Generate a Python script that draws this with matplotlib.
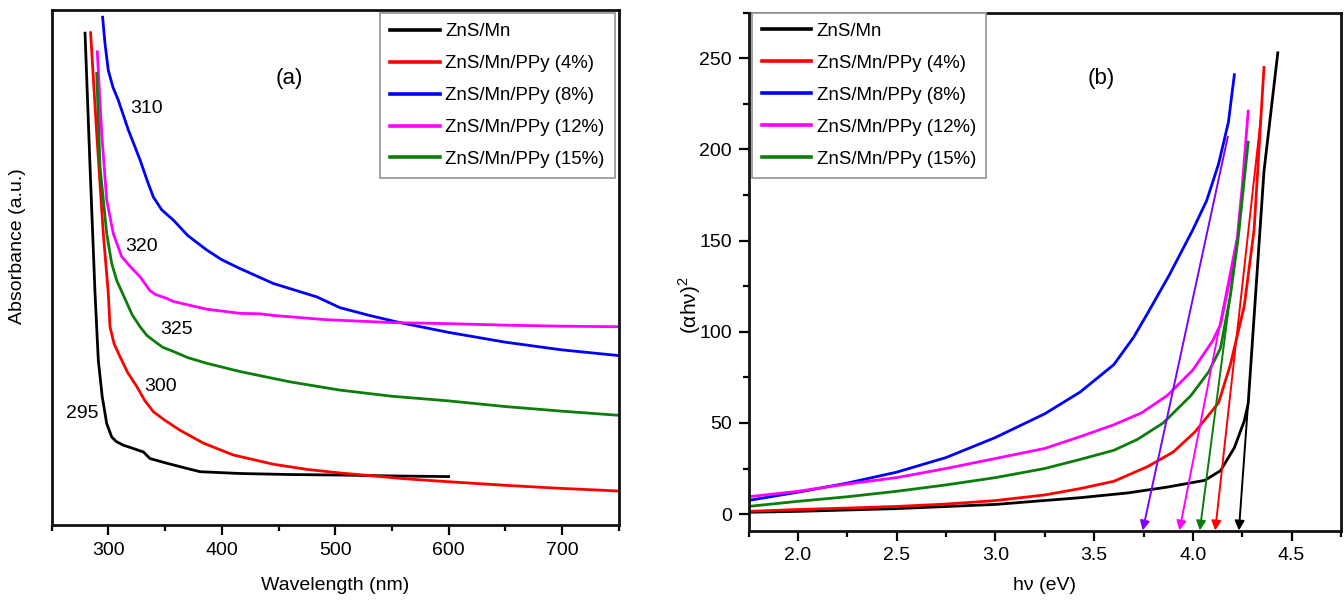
import matplotlib
matplotlib.use("Agg")
import matplotlib.pyplot as plt
from matplotlib.ticker import MultipleLocator, NullLocator

plt.rcParams['font.family'] = ['Liberation Sans', 'DejaVu Sans']

# ---------------- data : panel (a) ----------------
labels = ["ZnS/Mn", "ZnS/Mn/PPy (4%)", "ZnS/Mn/PPy (8%)",
          "ZnS/Mn/PPy (12%)", "ZnS/Mn/PPy (15%)"]
colors = ["#000000", "#ff0000", "#0000ff", "#ff00ff", "#0a7d0a"]

wl_mn = [279.4, 283.8, 288.2, 291.1, 294.5, 298.5, 302.9, 307.0, 313.1, 320.0,
         327.9, 330.8, 336.7, 351.4, 369.0, 380.8, 416.0, 460.0, 504.0, 530.0,
         560.0, 600.0]
ab_mn = [0.955, 0.696, 0.450, 0.320, 0.250, 0.197, 0.171, 0.162, 0.155, 0.150,
         0.144, 0.142, 0.129, 0.120, 0.110, 0.1035, 0.100, 0.098, 0.097, 0.096,
         0.095, 0.094]

wl_4 = [284.3, 289.7, 295.5, 299.9, 301.4, 305.0, 310.2, 317.0, 325.0, 332.0,
        339.6, 350.0, 363.1, 383.7, 410.1, 445.4, 474.9, 504.2, 530.0, 560.0,
        600.0, 650.0, 700.0, 750.0]
ab_4 = [0.956, 0.760, 0.566, 0.450, 0.385, 0.352, 0.327, 0.296, 0.269, 0.242,
        0.220, 0.203, 0.184, 0.159, 0.136, 0.118, 0.108, 0.101, 0.096, 0.090,
        0.084, 0.077, 0.071, 0.066]

wl_8 = [294.9, 297.0, 299.9, 304.0, 308.7, 317.6, 327.9, 334.0, 339.6, 347.0,
        357.3, 370.0, 386.7, 400.0, 416.0, 445.4, 483.7, 504.2, 530.0, 555.0,
        600.0, 650.0, 700.0, 750.0]
ab_8 = [0.986, 0.935, 0.883, 0.850, 0.825, 0.767, 0.709, 0.670, 0.637, 0.612,
        0.592, 0.562, 0.534, 0.515, 0.498, 0.469, 0.443, 0.422, 0.407, 0.394,
        0.374, 0.355, 0.340, 0.329]

wl_12 = [290.2, 294.1, 298.5, 304.3, 311.7, 320.0, 327.9, 336.7, 341.1, 351.4,
         357.3, 386.7, 416.0, 434.0, 445.0, 489.5, 550.0, 600.0, 650.0, 700.0, 750.0]
ab_12 = [0.919, 0.760, 0.631, 0.566, 0.521, 0.500, 0.482, 0.455, 0.448, 0.440,
         0.434, 0.419, 0.411, 0.410, 0.407, 0.399, 0.393, 0.391, 0.388, 0.386, 0.385]

wl_15 = [289.7, 292.6, 298.5, 302.9, 307.3, 316.1, 321.0, 327.9, 334.0, 341.1,
         348.0, 357.3, 370.0, 386.7, 416.0, 460.0, 504.0, 550.0, 600.0, 650.0,
         700.0, 750.0]
ab_15 = [0.877, 0.696, 0.566, 0.508, 0.475, 0.432, 0.408, 0.385, 0.368, 0.356,
         0.345, 0.337, 0.325, 0.314, 0.298, 0.278, 0.262, 0.250, 0.241, 0.230,
         0.221, 0.213]

edge_labels = ["295", "300", "310", "320", "325"]
edge_x = [277.3, 346.4, 333.2, 329.3, 360.2]
edge_y = [0.217, 0.268, 0.809, 0.540, 0.380]

# ---------------- data : panel (b) ----------------
E_mn = [1.75, 2.0, 2.5, 3.0, 3.43, 3.67, 3.87, 4.06, 4.14, 4.21, 4.26, 4.28, 4.36, 4.43]
T_mn = [1.0, 1.5, 3.0, 5.3, 9.0, 11.6, 14.8, 18.5, 23.8, 36.4, 51.0, 60.5, 188.0, 253.0]

E_4 = [1.75, 2.0, 2.25, 2.5, 2.75, 3.0, 3.25, 3.43, 3.6, 3.77, 3.9, 4.01, 4.13, 4.19,
       4.26, 4.31, 4.36]
T_4 = [1.5, 2.5, 3.3, 4.2, 5.5, 7.4, 10.5, 14.0, 18.0, 26.0, 34.0, 45.0, 61.0, 82.0,
       114.0, 156.0, 245.0]

E_8 = [1.75, 2.0, 2.25, 2.5, 2.75, 3.0, 3.25, 3.43, 3.6, 3.7, 3.77, 3.88, 4.0, 4.07,
       4.13, 4.18, 4.21]
T_8 = [7.5, 12.0, 17.0, 23.0, 31.0, 42.0, 55.0, 67.0, 82.0, 97.0, 110.0, 131.0, 156.0,
       172.0, 192.0, 215.0, 241.0]

E_12 = [1.75, 2.0, 2.25, 2.5, 2.75, 3.0, 3.25, 3.43, 3.6, 3.74, 3.87, 4.0, 4.1, 4.14,
        4.2, 4.22, 4.25, 4.28]
T_12 = [9.5, 12.5, 16.5, 20.0, 25.0, 30.5, 36.0, 42.5, 49.0, 55.5, 65.0, 79.0, 95.0,
        104.0, 135.0, 146.0, 180.0, 221.0]

E_15 = [1.75, 2.0, 2.25, 2.5, 2.75, 3.0, 3.25, 3.43, 3.6, 3.72, 3.85, 3.99, 4.08, 4.14,
        4.19, 4.23, 4.28]
T_15 = [4.2, 7.0, 9.5, 12.5, 16.0, 20.0, 25.0, 30.0, 35.0, 41.0, 50.0, 65.0, 78.0, 91.0,
        120.0, 152.0, 204.0]

arrow_colors = ["#000000", "#ff0000", "#8000ff", "#ff00ff", "#0a7d0a"]
arrow_from_E = [4.279, 4.346, 4.177, 4.220, 4.228]
arrow_from_T = [60.0, 219.0, 207.0, 150.0, 152.0]
arrow_to_E = [4.233, 4.113, 3.746, 3.932, 4.035]
arrow_to_T = [-9.0, -9.0, -9.0, -9.0, -9.0]

# ---------------- figure ----------------
fig = plt.figure(figsize=(13.44, 6.0), dpi=100)
W, H = 1344.0, 600.0
axa = fig.add_axes([51.7 / W, (H - 525) / H, 567 / W, 515 / H])
axb = fig.add_axes([748.5 / W, (H - 530.5) / H, 592.5 / W, 517.8 / H])

LW = 2.0
series_a = [(wl_mn, ab_mn), (wl_4, ab_4), (wl_8, ab_8), (wl_12, ab_12), (wl_15, ab_15)]
for (x, y), c, lab in zip(series_a, colors, labels):
    axa.plot(x, y, color=c, lw=LW, label=lab, solid_joinstyle='round')

for t, x, y in zip(edge_labels, edge_x, edge_y):
    axa.text(x, y, t, fontsize=14, ha='center', va='center')
axa.text(459.5, 0.867, "(a)", fontsize=16, ha='center', va='center')

axa.set_xlim(250, 750)
axa.set_ylim(0, 1)
axa.xaxis.set_major_locator(MultipleLocator(100))
axa.xaxis.set_minor_locator(MultipleLocator(50))
axa.yaxis.set_major_locator(NullLocator())
axa.yaxis.set_minor_locator(NullLocator())
axa.set_xlabel("Wavelength (nm)", fontsize=14)
axa.set_ylabel("Absorbance (a.u.)", fontsize=14)
axa.xaxis.set_label_coords(0.5, (525 - 586) / 515)
axa.xaxis.label.set_va('center')
axa.yaxis.set_label_coords((18 - 51.7) / 567, (525 - 246) / 515)
axa.yaxis.label.set_va('center')

series_b = [(E_mn, T_mn), (E_4, T_4), (E_8, T_8), (E_12, T_12), (E_15, T_15)]
for (x, y), c, lab in zip(series_b, colors, labels):
    axb.plot(x, y, color=c, lw=LW, label=lab, solid_joinstyle='round')

for c, x0, y0, x1, y1 in zip(arrow_colors, arrow_from_E, arrow_from_T, arrow_to_E, arrow_to_T):
    axb.annotate("", xy=(x1, y1), xytext=(x0, y0),
                 arrowprops=dict(arrowstyle='-|>', color=c, lw=1.4,
                                 mutation_scale=14, shrinkA=0, shrinkB=0),
                 annotation_clip=False)

axb.text(3.538, 239, "(b)", fontsize=16, ha='center', va='center')
axb.set_xlim(1.75, 4.75)
axb.set_ylim(-9, 275)
axb.xaxis.set_major_locator(MultipleLocator(0.5))
axb.xaxis.set_minor_locator(MultipleLocator(0.25))
axb.yaxis.set_major_locator(MultipleLocator(50))
axb.yaxis.set_minor_locator(MultipleLocator(25))
axb.xaxis.set_major_formatter(matplotlib.ticker.FormatStrFormatter('%.1f'))
axb.set_xlabel("hν (eV)", fontsize=14)
axb.set_ylabel(r"(αhν)$^{\mathregular{2}}$", fontsize=15)
axb.xaxis.set_label_coords(0.5, (530.5 - 586) / 517.8)
axb.xaxis.label.set_va('center')
axb.yaxis.set_label_coords((690 - 748.5) / 592.5, (530.5 - 305) / 517.8)
axb.yaxis.label.set_va('center')

for ax in (axa, axb):
    for s in ax.spines.values():
        s.set_linewidth(2.0)
        s.set_color('#111111')
    ax.tick_params(which='major', direction='out', length=7, width=1.6,
                   labelsize=14, pad=5, top=False, right=False)
    ax.tick_params(which='minor', direction='out', length=4.5, width=1.6,
                   top=False, right=False)

legkw = dict(fontsize=13.4, frameon=True, fancybox=False, framealpha=1,
             borderaxespad=0.0, handlelength=2.65, handletextpad=0.3,
             labelspacing=0.8, borderpad=0.55)
la = axa.legend(loc='upper right', bbox_to_anchor=(1 - 4 / 567, 1 - 3 / 515), **legkw)
lb = axb.legend(loc='upper left', bbox_to_anchor=(3.2 / 592.5, 1.0), **legkw)
for lg in (la, lb):
    lg.get_frame().set_edgecolor('#9a9a9a')
    lg.get_frame().set_linewidth(1.3)
    for ln in lg.get_lines():
        ln.set_linewidth(2.6)

fig.savefig("out.png", dpi=100)
